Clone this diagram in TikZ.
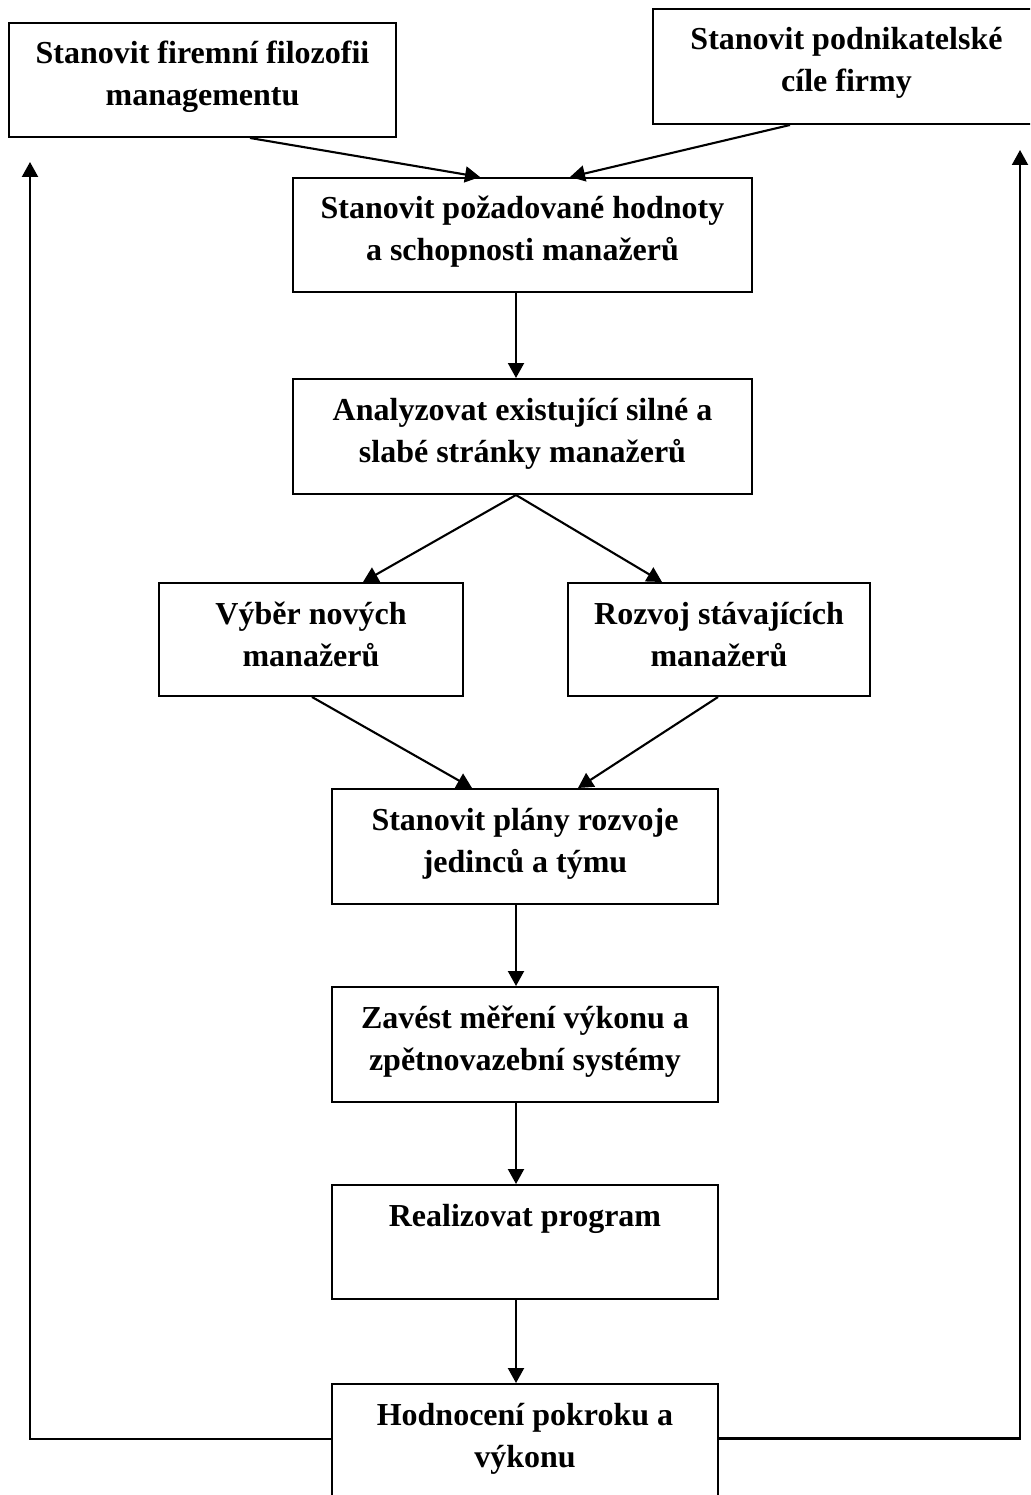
\documentclass[tikz,border=0pt]{standalone}
\usepackage{fontspec}
\setmainfont{Liberation Serif}
\usetikzlibrary{arrows.meta}

% fixed-size box content: text hangs from the top edge, lines centred
\newcommand{\stagetext}[3]{\parbox[c][#2][t]{#1}{\centering\rule{0pt}{41pt}#3}}

\tikzset{
  stagebox/.style={draw, line width=2pt, inner sep=0pt,
    font=\fontsize{32}{42}\selectfont\bfseries},
  flow/.style={line width=2.1pt, -{Triangle[length=15pt,width=16pt]}},
}

\begin{document}
\begin{tikzpicture}[x=1pt, y=-1pt]
  \clip (0,0) rectangle (1030,1495);
  \fill[white] (0,0) rectangle (1030,1495);

  % input boxes
  \node[stagebox] (phil) at (202.5,80)
    {\stagetext{387pt}{114pt}{Stanovit firemní filozofii\\managementu}};
  \node[stagebox] (goals) at (846.5,66.5)
    {\stagetext{387pt}{115pt}{Stanovit podnikatelské\\cíle firmy}};

  % main chain
  \node[stagebox] (values) at (522.5,235)
    {\stagetext{459pt}{114pt}{Stanovit požadované hodnoty\\a schopnosti manažerů}};
  \node[stagebox] (analyse) at (522.5,436.5)
    {\stagetext{459pt}{115pt}{Analyzovat existující silné a\\slabé stránky manažerů}};
  \node[stagebox] (select) at (311,639.5)
    {\stagetext{304pt}{113pt}{Výběr nových\\manažerů}};
  \node[stagebox] (develop) at (719,639.5)
    {\stagetext{302pt}{113pt}{Rozvoj stávajících\\manažerů}};
  \node[stagebox] (plans) at (525,846.5)
    {\stagetext{386pt}{115pt}{Stanovit plány rozvoje\\jedinců a týmu}};
  \node[stagebox] (measure) at (525,1044.5)
    {\stagetext{386pt}{115pt}{Zavést měření výkonu a\\zpětnovazební systémy}};
  \node[stagebox] (run) at (525,1242)
    {\stagetext{386pt}{114pt}{Realizovat program}};
  \node[stagebox] (review) at (525,1441.5)
    {\stagetext{386pt}{115pt}{Hodnocení pokroku a\\výkonu}};

  % spine and feedback ends
  \coordinate (spine) at (516,0);
  \coordinate (lefttip) at (30,162);
  \coordinate (righttip) at (1020,150);

  % connectors
  \draw[flow] ([xshift=47.5pt]phil.south) -- ([xshift=-42.5pt]values.north);
  \draw[flow] ([xshift=-56.5pt]goals.south) -- ([xshift=47.5pt]values.north);
  \draw[flow] (values.south -| spine) -- (analyse.north -| spine);
  \draw[flow] (analyse.south -| spine) -- ([xshift=52pt]select.north);
  \draw[flow] (analyse.south -| spine) -- ([xshift=-57pt]develop.north);
  \draw[flow] ([xshift=1pt]select.south) -- ([xshift=-53pt]plans.north);
  \draw[flow] ([xshift=-1pt]develop.south) -- ([xshift=53pt]plans.north);
  \draw[flow] (plans.south -| spine) -- (measure.north -| spine);
  \draw[flow] (measure.south -| spine) -- (run.north -| spine);
  \draw[flow] (run.south -| spine) -- (review.north -| spine);

  % feedback loops
  \draw[flow] ([yshift=2.5pt]review.west) -| (lefttip);
  \draw[flow] ([yshift=3pt]review.east) -| (righttip);
\end{tikzpicture}
\end{document}
